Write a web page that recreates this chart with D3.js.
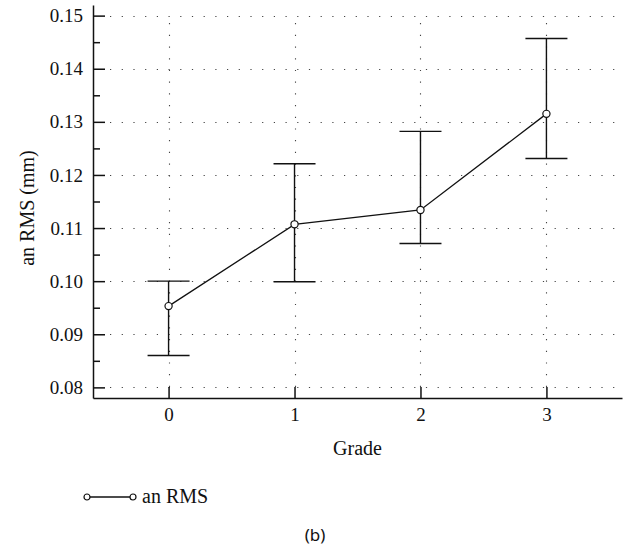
<!DOCTYPE html>
<html>
<head>
<meta charset="utf-8">
<script src="https://cdn.jsdelivr.net/npm/d3@7"></script>
<style>
  body { margin: 0; background: #fff; }
</style>
</head>
<body>
<div id="chart"></div>
<script>
// values
const grades = [0, 1, 2, 3];
const meanRms = [0.0953, 0.1107, 0.1134, 0.1315];
const upperRms = [0.1000, 0.1221, 0.1282, 0.1457];
const lowerRms = [0.0860, 0.0999, 0.1071, 0.1231];
const yTicks = [0.08, 0.09, 0.10, 0.11, 0.12, 0.13, 0.14, 0.15];
const yMinorTicks = [0.085, 0.095, 0.105, 0.115, 0.125, 0.135, 0.145];

const width = 637, height = 550;
const plot = {left: 93, right: 622, top: 5, bottom: 398};
const serif = "'Liberation Serif', 'DejaVu Serif', serif";

const svg = d3.select("#chart").append("svg")
    .attr("width", width)
    .attr("height", height)
    .style("font-family", serif);

const x = d3.scaleLinear().domain([-0.6, 3.6]).range([plot.left, plot.right]);
const y = d3.scaleLinear().domain([0.078, 0.152]).range([plot.bottom, plot.top]);

// dotted grid
const grid = svg.append("g").attr("class", "grid")
    .attr("stroke", "#444")
    .attr("stroke-width", 1.1)
    .attr("stroke-dasharray", "1.2,10.5");

grid.selectAll(".hgrid")
    .data(yTicks)
    .join("line")
    .attr("x1", plot.left + 17)
    .attr("x2", plot.right)
    .attr("y1", d => Math.round(y(d)) + 0.5)
    .attr("y2", d => Math.round(y(d)) + 0.5);

grid.selectAll(".vgrid")
    .data(grades)
    .join("line")
    .attr("x1", d => Math.round(x(d)) + 0.5)
    .attr("x2", d => Math.round(x(d)) + 0.5)
    .attr("y1", plot.bottom - 11)
    .attr("y2", plot.top + 18);

// axes
svg.append("g")
    .attr("transform", `translate(${plot.left},0)`)
    .call(d3.axisLeft(y).tickValues(yTicks).tickFormat(d3.format(".2f"))
        .tickSizeInner(-12).tickSizeOuter(0).tickPadding(10));

svg.append("g")
    .attr("transform", `translate(${plot.left},0)`)
    .call(d3.axisLeft(y).tickValues(yMinorTicks).tickFormat("")
        .tickSizeInner(-7).tickSizeOuter(0))
    .call(g => g.select(".domain").remove());

svg.append("g")
    .attr("transform", `translate(0,${plot.bottom})`)
    .call(d3.axisBottom(x).tickValues(grades).tickFormat(d3.format("d"))
        .tickSizeInner(-11).tickSizeOuter(0).tickPadding(10));

svg.selectAll(".tick text")
    .style("font-family", serif)
    .attr("font-size", 19)
    .attr("fill", "#111");
svg.selectAll(".domain, .tick line")
    .attr("stroke", "#111")
    .attr("stroke-width", 1.5);

// axis titles
svg.append("text")
    .attr("text-anchor", "middle")
    .attr("x", x(1.5))
    .attr("y", 455)
    .attr("font-size", 20)
    .attr("fill", "#111")
    .text("Grade");

svg.append("text")
    .attr("text-anchor", "middle")
    .attr("transform", "rotate(-90)")
    .attr("x", -208)
    .attr("y", 34)
    .attr("font-size", 20)
    .attr("fill", "#111")
    .text("an RMS (mm)");

// error bars
const capHalf = 21;
const bars = svg.append("g").attr("stroke", "#111").attr("stroke-width", 1.4);
grades.forEach((g, i) => {
    const cx = x(g);
    bars.append("line")
        .attr("x1", cx).attr("x2", cx)
        .attr("y1", y(upperRms[i])).attr("y2", y(lowerRms[i]));
    bars.append("line")
        .attr("x1", cx - capHalf).attr("x2", cx + capHalf)
        .attr("y1", y(upperRms[i])).attr("y2", y(upperRms[i]));
    bars.append("line")
        .attr("x1", cx - capHalf).attr("x2", cx + capHalf)
        .attr("y1", y(lowerRms[i])).attr("y2", y(lowerRms[i]));
});

// mean line + markers
const line = d3.line().x((d, i) => x(grades[i])).y(d => y(d));
svg.append("path")
    .datum(meanRms)
    .attr("d", line)
    .attr("fill", "none")
    .attr("stroke", "#111")
    .attr("stroke-width", 1.3);

svg.selectAll(".pt")
    .data(meanRms)
    .join("circle")
    .attr("cx", (d, i) => x(grades[i]))
    .attr("cy", d => y(d))
    .attr("r", 3.6)
    .attr("fill", "#fff")
    .attr("stroke", "#111")
    .attr("stroke-width", 1.2);

// legend
const legend = svg.append("g").attr("transform", "translate(87,497)");
legend.append("line")
    .attr("x1", 0).attr("x2", 46)
    .attr("stroke", "#111").attr("stroke-width", 1.3);
legend.selectAll("circle")
    .data([0, 46])
    .join("circle")
    .attr("cx", d => d).attr("cy", 0).attr("r", 3)
    .attr("fill", "#fff").attr("stroke", "#111").attr("stroke-width", 1.2);
legend.append("text")
    .attr("x", 55)
    .attr("y", 6)
    .attr("font-size", 20)
    .attr("fill", "#111")
    .text("an RMS");

// panel label
svg.append("text")
    .attr("text-anchor", "middle")
    .attr("x", 315)
    .attr("y", 541)
    .style("font-family", "'Noto Sans', sans-serif")
    .attr("font-size", 17)
    .attr("fill", "#111")
    .text("(b)");
</script>
</body>
</html>
